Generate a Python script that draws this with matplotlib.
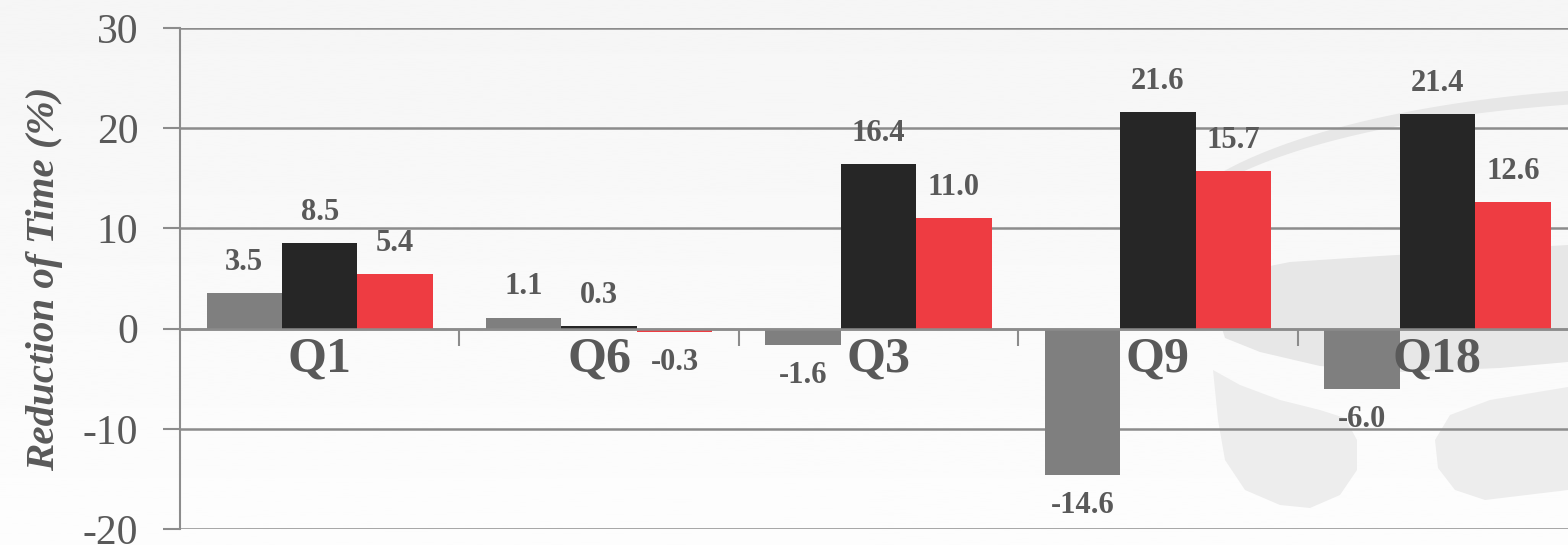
import numpy as np
import matplotlib.pyplot as plt
from matplotlib.patches import Polygon

queries = ["Q1", "Q6", "Q3", "Q9", "Q18"]
series_a = [3.5, 1.1, -1.6, -14.6, -6.0]
series_b = [8.5, 0.3, 16.4, 21.6, 21.4]
series_c = [5.4, -0.3, 11.0, 15.7, 12.6]
y_ticks = [-20, -10, 0, 10, 20, 30]

colors = ["#7f7f7f", "#262626", "#ee3c42"]
text_gray = "#595959"
line_gray = "#8c8c8c"

plt.rcParams["font.family"] = ["Liberation Serif", "DejaVu Serif"]

W, H = 1568, 545
fig = plt.figure(figsize=(W / 100, H / 100), dpi=100)

# soft gray background fading toward the bottom, with a faint logo watermark
bg = fig.add_axes([0, 0, 1, 1], zorder=-10)
grad = np.linspace(0.962, 0.992, 256).reshape(-1, 1)
bg.imshow(grad, cmap="gray", vmin=0, vmax=1, aspect="auto", extent=[0, W, H, 0])
bg.set_xlim(0, W)
bg.set_ylim(H, 0)
bg.axis("off")

mark = "#e7e7e7"
xs = np.linspace(1212, W, 80)
top_o = 250 - 164 * np.sqrt(np.clip(1 - ((xs - 1700) / 543) ** 2, 0, 1))
top_i = 250 - 150 * np.sqrt(np.clip(1 - ((xs - 1700) / 536) ** 2, 0, 1))
ring = np.r_[np.c_[xs, top_o], np.c_[xs[::-1], top_i[::-1]]]
bg.add_patch(Polygon(ring, closed=True, color=mark, lw=0))

bowl = [(1213, 300), (1240, 272), (1290, 262), (1380, 256), (1480, 250), (W, 245),
        (W, 362), (1500, 368), (1400, 372), (1320, 366), (1260, 352), (1225, 338)]
bg.add_patch(Polygon(bowl, closed=True, color=mark, lw=0))

swirl = [(1213, 370), (1218, 420), (1225, 460), (1245, 490), (1280, 505), (1310, 508),
         (1340, 495), (1357, 470), (1357, 440), (1345, 418), (1320, 410), (1280, 400),
         (1240, 385)]
bg.add_patch(Polygon(swirl, closed=True, color="#ededed", lw=0))

blob = [(W, 387), (1490, 400), (1450, 415), (1435, 440), (1438, 468), (1455, 490),
        (1485, 500), (W, 490)]
bg.add_patch(Polygon(blob, closed=True, color="#ededed", lw=0))

ax = fig.add_axes([0.1148, 0.0294, 0.891, 0.9193])
ax.patch.set_alpha(0)

x = np.arange(len(queries))
w = 0.27
for k, vals in enumerate([series_a, series_b, series_c]):
    bars = ax.bar(x + (k - 1) * w, vals, w, color=colors[k], zorder=3)
    for rect, v in zip(bars, vals):
        off = 22 if v >= 0 else -22
        ax.annotate(f"{v:.1f}", (rect.get_x() + rect.get_width() / 2, v),
                    xytext=(0, off), textcoords="offset points",
                    ha="center", va="center", fontsize=22, fontweight="bold",
                    color=text_gray, zorder=5)

for i, q in enumerate(queries):
    ax.annotate(q, (i, 0), xytext=(0, -6), textcoords="offset points",
                ha="center", va="top", fontsize=36, fontweight="bold",
                color=text_gray, zorder=5)

ax.set_xlim(-0.5, len(queries) - 0.5)
ax.set_ylim(-20, 30)
ax.set_yticks(y_ticks)
ax.set_yticklabels([str(t) for t in y_ticks], fontsize=30, color=text_gray)
ax.tick_params(axis="y", length=12, width=1.5, color=line_gray, pad=18)
ax.grid(axis="y", color=line_gray, linewidth=1.8, zorder=1)

# category axis sits on the zero line with ticks between groups
ax.spines["bottom"].set_position(("data", 0))
ax.spines["bottom"].set_color(line_gray)
ax.spines["bottom"].set_linewidth(1.8)
ax.spines["bottom"].set_zorder(4)
ax.set_xticks(np.arange(len(queries) - 1) + 0.5)
ax.set_xticklabels([])
ax.tick_params(axis="x", length=12, width=1.5, color=line_gray, direction="out")
ax.spines["left"].set_color(line_gray)
ax.spines["left"].set_linewidth(1.5)
ax.spines["top"].set_visible(False)
ax.spines["right"].set_visible(False)

ax.set_ylabel("Reduction of Time (%)", fontsize=29.5, fontweight="bold",
              fontstyle="italic", color=text_gray, labelpad=14)

fig.savefig("out.png", dpi=100)
